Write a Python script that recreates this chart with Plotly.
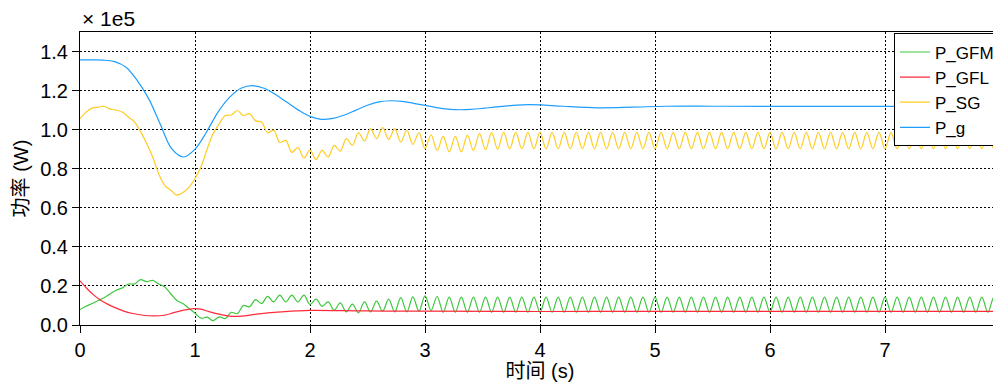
import numpy as np
import plotly.graph_objects as go

# ---------------- data (values in 1e5 W, time in s) ----------------
# oscillating series sampled at their extrema (half-period grid: 153 samples over 0..8 s)
t_osc = np.linspace(0, 8, 153)

p_sg = [
    1.056, 1.09, 1.11, 1.115, 1.12, 1.105, 1.10, 1.09, 1.065, 1.04,
    0.99, 0.93, 0.86, 0.775, 0.715, 0.69, 0.665, 0.678, 0.705, 0.75,
    0.81, 0.90, 0.98, 1.03, 1.072, 1.075, 1.098, 1.072, 1.082, 1.045,
    1.039, 0.985, 0.997, 0.935, 0.945, 0.884, 0.908, 0.855, 0.895, 0.847,
    0.894, 0.86, 0.92, 0.89, 0.954, 0.92, 0.985, 0.942, 1.005, 0.954,
    1.01, 0.95, 1.005, 0.937, 0.997, 0.925, 0.985, 0.903, 0.974, 0.894,
    0.966, 0.886, 0.966, 0.886, 0.971, 0.894, 0.98, 0.898, 0.985, 0.90,
    0.986, 0.902, 0.986, 0.902, 0.986, 0.902, 0.986, 0.902, 0.986, 0.902,
    0.986, 0.902, 0.986, 0.902, 0.986, 0.902, 0.986, 0.902, 0.986, 0.902,
    0.986, 0.902, 0.986, 0.902, 0.986, 0.902, 0.986, 0.902, 0.986, 0.902,
    0.986, 0.902, 0.986, 0.902, 0.986, 0.902, 0.986, 0.902, 0.986, 0.902,
    0.986, 0.902, 0.986, 0.902, 0.986, 0.902, 0.986, 0.902, 0.986, 0.902,
    0.986, 0.902, 0.986, 0.902, 0.986, 0.902, 0.986, 0.902, 0.986, 0.902,
    0.986, 0.902, 0.986, 0.902, 0.986, 0.902, 0.986, 0.902, 0.986, 0.902,
    0.986, 0.902, 0.986, 0.902, 0.986, 0.902, 0.986, 0.902, 0.986, 0.902,
    0.986, 0.902, 0.986,
]

p_gfm = [
    0.079, 0.096, 0.11, 0.125, 0.14, 0.16, 0.178, 0.19, 0.21, 0.21,
    0.232, 0.222, 0.228, 0.21, 0.195, 0.16, 0.125, 0.11, 0.085, 0.06,
    0.035, 0.04, 0.022, 0.042, 0.033, 0.065, 0.058, 0.10, 0.093, 0.13,
    0.11, 0.147, 0.118, 0.153, 0.118, 0.153, 0.118, 0.153, 0.105, 0.132,
    0.095, 0.118, 0.076, 0.113, 0.067, 0.107, 0.062, 0.118, 0.067, 0.122,
    0.071, 0.132, 0.067, 0.14, 0.067, 0.144, 0.071, 0.149, 0.075, 0.146,
    0.065, 0.143, 0.065, 0.143, 0.065, 0.143, 0.065, 0.143, 0.065, 0.143,
    0.065, 0.143, 0.065, 0.143, 0.065, 0.143, 0.065, 0.143, 0.065, 0.143,
    0.065, 0.143, 0.065, 0.143, 0.065, 0.143, 0.065, 0.143, 0.065, 0.143,
    0.065, 0.143, 0.065, 0.143, 0.065, 0.143, 0.065, 0.143, 0.065, 0.143,
    0.065, 0.143, 0.065, 0.143, 0.065, 0.143, 0.065, 0.143, 0.065, 0.143,
    0.065, 0.143, 0.065, 0.143, 0.065, 0.143, 0.065, 0.143, 0.065, 0.143,
    0.065, 0.143, 0.065, 0.143, 0.065, 0.143, 0.065, 0.143, 0.065, 0.143,
    0.065, 0.143, 0.065, 0.143, 0.065, 0.143, 0.065, 0.143, 0.065, 0.143,
    0.065, 0.143, 0.065, 0.143, 0.065, 0.143, 0.065, 0.143, 0.065, 0.143,
    0.065, 0.143, 0.065,
]

t_gfl = [0, 0.06, 0.12, 0.18, 0.24, 0.3, 0.38, 0.46, 0.55, 0.64, 0.73, 0.81,
         0.9, 0.99, 1.05, 1.13, 1.22, 1.3, 1.4, 1.52, 1.63, 1.75, 1.88, 2.0,
         2.5, 3.0, 4.0, 5.0, 6.0, 7.0, 8.0]
p_gfl = [0.226, 0.187, 0.153, 0.127, 0.107, 0.09, 0.071, 0.059, 0.05, 0.047,
         0.05, 0.062, 0.076, 0.084, 0.081, 0.067, 0.054, 0.045, 0.045, 0.054,
         0.062, 0.067, 0.072, 0.075, 0.072, 0.071, 0.069, 0.07, 0.07, 0.07, 0.07]

t_g = [0, 0.1, 0.2, 0.3, 0.4, 0.5, 0.6, 0.7, 0.8, 0.9, 1.0, 1.1, 1.2, 1.3,
       1.4, 1.5, 1.6, 1.7, 1.8, 1.9, 2.0, 2.1, 2.2, 2.3, 2.4, 2.5, 2.6, 2.7,
       2.8, 2.9, 3.0, 3.1, 3.2, 3.3, 3.4, 3.5, 3.6, 3.7, 3.8, 3.9, 4.0, 4.2,
       4.5, 4.8, 5.1, 5.5, 6.0, 7.0, 8.0]
p_g = [1.357, 1.357, 1.356, 1.348, 1.32, 1.25, 1.155, 1.025, 0.90, 0.86,
       0.90, 0.988, 1.09, 1.165, 1.212, 1.225, 1.212, 1.18, 1.14, 1.10,
       1.068, 1.053, 1.058, 1.075, 1.10, 1.125, 1.142, 1.148, 1.145, 1.135,
       1.124, 1.113, 1.105, 1.102, 1.104, 1.109, 1.115, 1.121, 1.126, 1.128,
       1.127, 1.12, 1.112, 1.115, 1.12, 1.12, 1.119, 1.119, 1.119]

names = ["P_GFM", "P_GFL", "P_SG", "P_g"]
colors = ["#3cc83c", "#ff2a3a", "#ffcc22", "#1e9eff"]

# ---------------- figure ----------------
# The page body has an 8 px margin, so the figure is 8 px smaller and the
# plot margins are reduced by 8 px on the left/top.
FONT = "Liberation Sans, Arial, Noto Sans CJK SC, sans-serif"
fig = go.Figure()
series = [(t_osc, p_gfm), (t_gfl, p_gfl), (t_osc, p_sg), (t_g, p_g)]
for (tx, vy), nm, c in zip(series, names, colors):
    fig.add_trace(go.Scatter(x=tx, y=vy, mode="lines", name=nm,
                             line=dict(color=c, width=1.2, shape="spline", smoothing=1)))

axis_common = dict(
    showline=True, linecolor="black", linewidth=1, mirror=True,
    ticks="outside", ticklen=7, tickcolor="black", tickwidth=1,
    showgrid=True, gridcolor="black", gridwidth=1, griddash="2px,2px",
    zeroline=False, tickfont=dict(size=20, color="black"), automargin=False,
    ticklabeloverflow="allow",
)
fig.update_xaxes(range=[0, 8], dtick=1, tick0=0,
                 title=dict(text="时间 (s)", font=dict(size=20), standoff=6),
                 **axis_common)
fig.update_yaxes(range=[0, 1.5], dtick=0.2, tick0=0, tickformat=".1f",
                 title=dict(text="功率 (W)", font=dict(size=20), standoff=6),
                 **axis_common)

fig.add_annotation(text="× 1e5", xref="paper", yref="paper", x=0, y=1,
                   xanchor="left", yanchor="bottom", showarrow=False,
                   font=dict(size=21, color="black"))

fig.update_layout(
    width=993, height=374,
    margin=dict(l=72, r=1, t=24, b=57, autoexpand=False),
    paper_bgcolor="white", plot_bgcolor="white",
    font=dict(family=FONT, size=20, color="black"),
    legend=dict(x=1, xanchor="right", y=0.995, yanchor="top",
                bgcolor="white", bordercolor="black", borderwidth=1,
                font=dict(size=17), tracegroupgap=0, itemwidth=30),
)

fig.write_html("out.html")
